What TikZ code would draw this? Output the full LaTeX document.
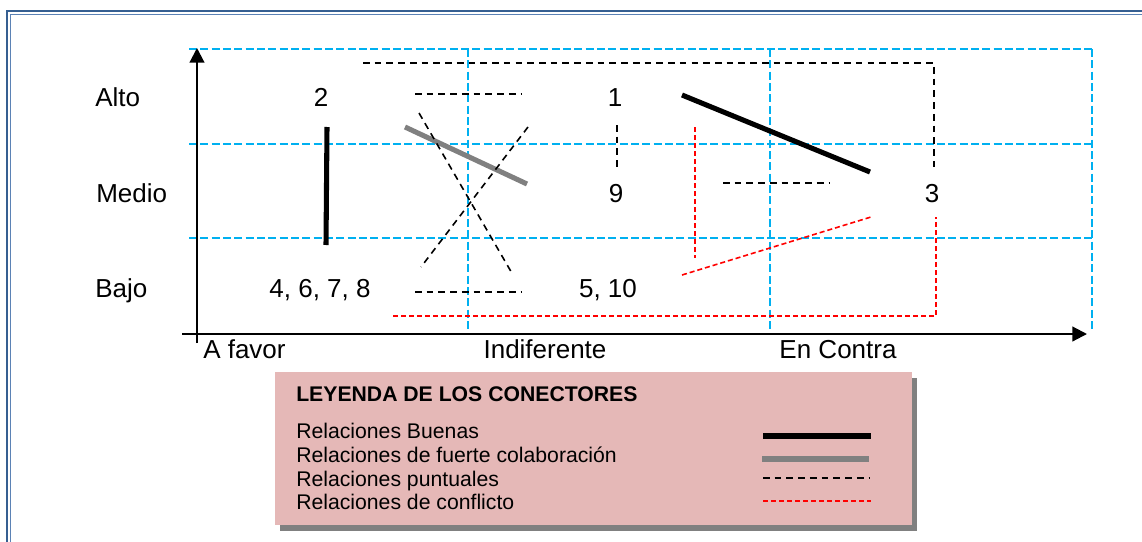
\documentclass[tikz,border=0pt]{standalone}
\usepackage{fontspec}
\setmainfont{Liberation Sans}
\usetikzlibrary{arrows.meta}
\definecolor{gridblue}{HTML}{00B0F0}
\definecolor{framedark}{HTML}{365F91}
\definecolor{framelight}{HTML}{5B82B5}
\definecolor{legendpink}{HTML}{E5B8B7}
\definecolor{shadowgray}{HTML}{808080}
\begin{document}
\begin{tikzpicture}[x=0.75pt,y=-0.75pt,
	every node/.style={inner sep=0pt,anchor=base,font=\fontsize{19.5}{23}\selectfont},
	gridline/.style={gridblue,line width=2pt,dash pattern=on 6pt off 2.5pt},
	axis/.style={line width=1.6pt,-{Triangle[length=11pt,width=11pt]}},
	buena/.style={line width=3.8pt},
	fuerte/.style={shadowgray,line width=3.8pt},
	puntual/.style={line width=1.2pt,dash pattern=on 5pt off 3.8pt},
	conflicto/.style={red,line width=1.2pt,dash pattern=on 3.8pt off 2.2pt},
	leg/.style={anchor=base west,font=\fontsize{15.9}{18}\selectfont}]
			\useasboundingbox (0,0) rectangle (1142,542);

			%frame
			\draw[framedark,line width=1.7pt] (7,542) -- (7,11) -- (1142,11);
			\draw[framelight,line width=1.1pt] (10.5,542) -- (10.5,14.5) -- (1142,14.5);

			%grid
			\foreach \y in {49,144,238} \draw[gridline] (189,\y) -- (1092,\y);
			\foreach \x in {468,770,1092} \draw[gridline] (\x,49) -- (\x,329);

			%axes
			\coordinate (ybot) at (197,343);
			\coordinate (ytop) at (197,48);
			\coordinate (xleft) at (182,334);
			\coordinate (xright) at (1087,334);
			\draw[axis] (ybot) -- (ytop);
			\draw[axis] (xleft) -- (xright);

			%axis labels
			\node[anchor=base west] (alto) at (95,107) {Alto};
			\node[anchor=base west] (medio) at (96,202) {Medio};
			\node[anchor=base west] (bajo) at (95,297) {Bajo};
			\node[anchor=base west] (afavor) at (203,358) {A favor};
			\node (indif) at (545,358) {Indiferente};
			\node (contra) at (838,358) {En Contra};

			%actors
			\node (n2) at (321,107) {2};
			\node (n1) at (615,107) {1};
			\node (n9) at (616,202) {9};
			\node (n3) at (932,202) {3};
			\node (n4678) at (320,297) {4, 6, 7, 8};
			\node (n510) at (608,297) {5, 10};

			%good relations
			\coordinate (b1) at (327,127);
			\coordinate (b2) at (326,245);
			\coordinate (b3) at (682,95);
			\coordinate (b4) at (870,172);
			\draw[buena] (b1) -- (b2);
			\draw[buena] (b3) -- (b4);

			%strong collaboration
			\coordinate (f1) at (405,127);
			\coordinate (f2) at (527,184);
			\draw[fuerte] (f1) -- (f2);

			%punctual relations
			\coordinate (p1) at (363,63);
			\coordinate (p2) at (934,63);
			\coordinate (p3) at (934,168);
			\draw[puntual] (p1) -- (p2) -- (p3);
			\coordinate (p4) at (415,94);
			\coordinate (p5) at (522,94);
			\draw[puntual] (p4) -- (p5);
			\coordinate (p6) at (415,292);
			\coordinate (p7) at (522,292);
			\draw[puntual] (p6) -- (p7);
			\coordinate (p8) at (419,113);
			\coordinate (p9) at (513,275);
			\draw[puntual] (p8) -- (p9);
			\coordinate (p10) at (528,127);
			\coordinate (p11) at (421,267);
			\draw[puntual] (p10) -- (p11);
			\coordinate (p12) at (617,125);
			\coordinate (p13) at (617,168);
			\draw[puntual] (p12) -- (p13);
			\coordinate (p14) at (723,183);
			\coordinate (p15) at (830,183);
			\draw[puntual] (p14) -- (p15);

			%conflict
			\coordinate (c1) at (695,127);
			\coordinate (c2) at (695,258);
			\draw[conflicto] (c1) -- (c2);
			\coordinate (c3) at (682,275);
			\coordinate (c4) at (871,217);
			\draw[conflicto] (c3) -- (c4);
			\coordinate (c5) at (393,316);
			\coordinate (c6) at (936,316);
			\coordinate (c7) at (936,217);
			\draw[conflicto] (c5) -- (c6) -- (c7);

			%legend
			\fill[shadowgray] (280,378) rectangle (917,531);
			\fill[legendpink] (275,372) rectangle (912,525);
			\node[leg,font=\fontsize{15.9}{18}\selectfont\bfseries] (legtitle) at (296,401) {LEYENDA DE LOS CONECTORES};
			\node[leg] (leg1) at (296,438) {Relaciones Buenas};
			\node[leg] (leg2) at (296,462) {Relaciones de fuerte colaboración};
			\node[leg] (leg3) at (296,486) {Relaciones puntuales};
			\node[leg] (leg4) at (296,509) {Relaciones de conflicto};
			\coordinate (l1a) at (763,436);
			\coordinate (l1b) at (871,436);
			\draw[buena] (l1a) -- (l1b);
			\coordinate (l2a) at (762,459);
			\coordinate (l2b) at (869,459);
			\draw[fuerte] (l2a) -- (l2b);
			\coordinate (l3a) at (763,478);
			\coordinate (l3b) at (870,478);
			\draw[puntual] (l3a) -- (l3b);
			\coordinate (l4a) at (763,501);
			\coordinate (l4b) at (871,501);
			\draw[conflicto] (l4a) -- (l4b);
		\end{tikzpicture}
\end{document}
